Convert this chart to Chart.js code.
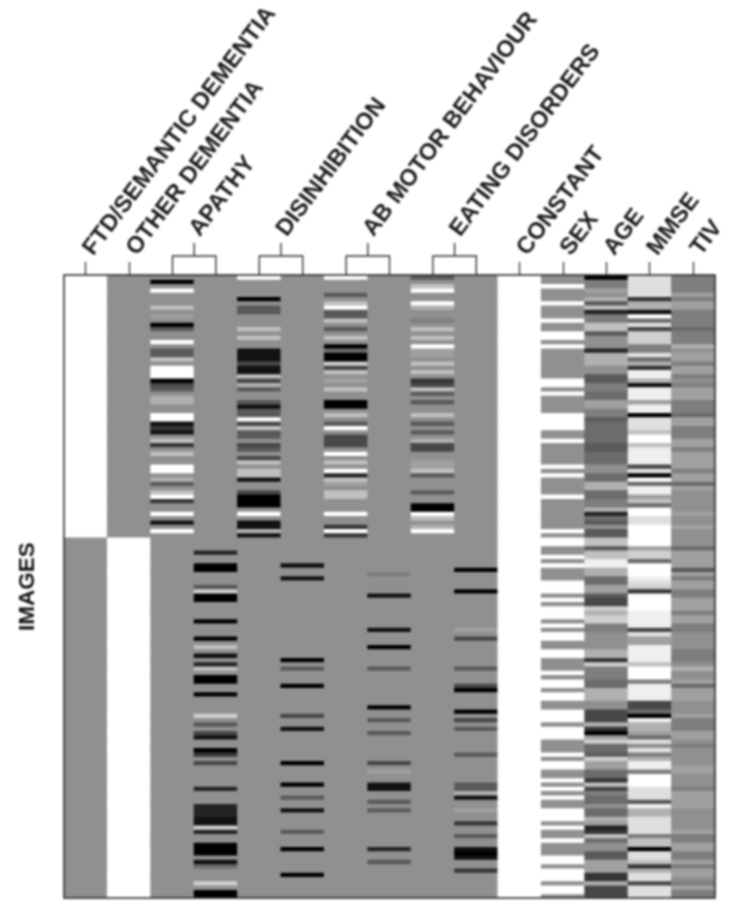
<!DOCTYPE html>
<html><head><meta charset="utf-8">
<script src="https://cdn.jsdelivr.net/npm/chart.js@4"></script>
<style>html,body{margin:0;padding:0;background:#fff}canvas{display:block;filter:blur(.9px)}</style>
</head><body><canvas id="c" width="756" height="911"></canvas>
<script>
const ROWS = 145, FTD_ROWS = 61, ZERO = 8;
const singleLabels = {0:'FTD/SEMANTIC DEMENTIA',1:'OTHER DEMENTIA',10:'CONSTANT',11:'SEX',12:'AGE',13:'MMSE',14:'TIV'};
const groupLabels = {2.5:'APATHY',4.5:'DISINHIBITION',6.5:'AB MOTOR BEHAVIOUR',8.5:'EATING DISORDERS'};
const singleTicks = [0,1,10,11,12,13,14];
const groupTicks = [2.5,4.5,6.5,8.5];
const yTitle = 'IMAGES';

// [row, level] — grey level 0 (black) .. 15 (white), 8 = mid grey
const apathyFtd = [[1,0],[3,15],[7,11],[9,9],[11,0],[12,5],[15,15],[17,5],[18,5],[19,11],[21,15],[22,15],[23,15],[24,0],[25,4],[26,5],[28,10],[29,10],[32,15],[33,15],[34,1],[35,3],[36,1],[38,11],[39,3],[41,11],[44,15],[45,15],[47,10],[48,5],[50,11],[51,15],[52,3],[55,15],[57,1],[59,15]];
const apathyOther = [[64,2],[67,0],[68,0],[72,5],[73,12],[74,0],[75,0],[80,0],[84,0],[86,11],[88,1],[90,2],[91,11],[93,0],[94,0],[97,0],[102,12],[104,5],[106,4],[107,1],[110,0],[111,3],[113,4],[119,2],[123,2],[124,2],[125,2],[126,1],[127,1],[128,12],[129,2],[132,0],[133,0],[134,0],[136,1],[137,6],[141,12],[143,0],[144,0]];
const disinhFtd = [[0,15],[5,0],[7,5],[8,5],[12,11],[14,11],[17,1],[18,1],[19,1],[20,4],[21,1],[22,1],[23,11],[24,4],[25,10],[26,5],[29,5],[30,1],[31,5],[32,5],[33,15],[34,4],[35,11],[36,5],[37,5],[39,4],[40,5],[42,4],[43,11],[45,11],[46,11],[47,1],[50,4],[51,0],[52,0],[53,0],[55,15],[57,1],[58,1],[59,10],[60,1]];
const disinhOther = [[67,1],[70,1],[89,0],[91,5],[95,0],[102,4],[105,1],[113,0],[118,0],[121,5],[124,1],[129,5],[133,0],[139,0]];
const motorFtd = [[0,15],[4,5],[6,11],[7,15],[8,5],[9,5],[10,11],[12,5],[14,11],[16,0],[17,6],[18,0],[19,0],[20,12],[21,4],[22,11],[24,9],[26,11],[29,0],[30,0],[32,11],[34,5],[35,15],[37,4],[38,4],[39,4],[41,15],[43,11],[45,15],[46,2],[47,11],[48,9],[50,11],[51,11],[55,15],[58,3],[59,15],[60,3]];
const motorOther = [[69,7],[74,1],[82,1],[86,0],[91,5],[100,0],[103,5],[106,5],[113,4],[115,9],[118,1],[119,1],[122,5],[124,5],[133,2],[136,5]];
const eatingFtd = [[0,5],[2,11],[3,15],[6,15],[7,10],[10,7],[12,11],[14,11],[16,15],[17,9],[18,9],[20,11],[22,11],[24,3],[25,4],[26,11],[27,5],[29,5],[32,11],[34,5],[36,5],[38,10],[39,4],[40,4],[43,9],[44,9],[45,11],[46,5],[50,5],[53,0],[54,0],[55,15],[56,11],[58,10],[59,15]];
const eatingOther = [[68,0],[73,0],[82,9],[84,4],[91,5],[95,4],[96,0],[101,0],[103,4],[105,5],[111,5],[118,5],[119,5],[120,10],[121,1],[124,9],[127,3],[130,5],[133,1],[134,0],[135,1],[138,3]];
// [first row, level] — the level holds until the next entry
const sexRuns = [[0,8],[2,15],[3,8],[6,15],[7,8],[10,15],[11,8],[13,15],[15,8],[16,15],[17,8],[24,15],[26,8],[27,15],[28,8],[32,15],[36,8],[38,15],[39,8],[44,15],[45,8],[46,15],[47,8],[51,15],[52,8],[59,15],[60,8],[61,15],[63,8],[65,15],[66,8],[67,15],[68,8],[71,15],[74,8],[75,15],[76,8],[77,15],[80,8],[81,15],[82,8],[83,15],[85,8],[87,15],[89,8],[92,15],[93,8],[94,15],[96,8],[97,15],[99,8],[101,15],[104,8],[105,15],[108,8],[111,15],[112,8],[113,15],[115,8],[117,15],[118,8],[119,15],[120,8],[121,15],[122,8],[124,15],[127,8],[128,15],[129,8],[131,15],[132,8],[135,15],[137,8],[138,15],[141,8],[142,15],[144,8]];
const ageRuns = [[0,0],[1,7],[3,9],[4,8],[5,10],[6,5],[7,11],[8,2],[9,7],[11,11],[13,5],[14,8],[17,2],[18,10],[21,8],[23,5],[25,7],[27,6],[29,9],[31,7],[33,5],[34,6],[39,5],[41,6],[44,8],[46,6],[48,10],[50,6],[52,7],[54,10],[55,2],[56,6],[57,5],[58,8],[59,5],[61,11],[63,5],[64,11],[66,14],[68,10],[70,6],[72,9],[74,5],[75,4],[77,12],[78,10],[79,12],[81,7],[83,8],[87,10],[89,3],[90,12],[91,7],[94,6],[96,10],[99,8],[101,4],[104,10],[105,3],[106,0],[107,9],[108,12],[109,6],[111,5],[112,12],[113,9],[115,6],[117,3],[118,11],[119,4],[120,7],[121,6],[123,8],[124,6],[126,10],[127,9],[128,2],[129,3],[130,11],[131,6],[132,8],[134,5],[136,9],[139,3],[141,10],[142,4]];
const mmseRuns = [[0,13],[5,3],[6,10],[8,1],[9,15],[10,6],[11,13],[12,4],[13,12],[16,7],[18,13],[19,6],[20,10],[21,3],[22,14],[24,10],[25,1],[26,14],[29,9],[30,14],[32,0],[33,13],[36,11],[37,15],[39,11],[40,14],[44,4],[45,13],[46,0],[47,15],[48,6],[49,14],[51,9],[52,11],[53,6],[54,15],[56,13],[58,15],[63,9],[64,12],[66,6],[67,15],[70,14],[71,13],[72,12],[73,3],[74,15],[78,14],[82,4],[83,13],[84,9],[86,14],[90,11],[91,15],[94,7],[95,14],[99,4],[101,6],[102,0],[103,14],[104,10],[106,9],[107,6],[108,13],[109,8],[110,13],[111,7],[112,10],[113,14],[115,7],[116,15],[119,13],[122,5],[123,14],[124,10],[126,13],[130,7],[131,11],[133,0],[134,13],[136,11],[137,3],[138,10],[139,13],[141,4],[142,13]];
const tivRuns = [[0,7],[4,9],[5,7],[6,9],[8,7],[12,6],[13,7],[16,10],[17,8],[18,9],[20,7],[21,9],[23,7],[24,8],[25,7],[26,9],[29,7],[32,6],[33,9],[35,7],[38,9],[40,7],[41,9],[45,7],[46,9],[48,6],[49,9],[50,8],[55,9],[56,8],[58,9],[59,8],[63,6],[64,9],[68,5],[69,9],[70,7],[71,9],[73,7],[75,9],[78,7],[79,9],[81,7],[83,8],[87,7],[90,8],[91,10],[92,8],[94,9],[95,6],[96,9],[99,8],[102,9],[103,7],[106,9],[108,8],[109,7],[110,8],[114,9],[116,8],[119,7],[120,9],[124,8],[129,9],[130,7],[132,9],[134,7],[136,9],[137,7],[138,9],[140,8],[141,7],[142,9],[143,7]];
const ftdWhiteRuns = [[0,15],[61,8]];
const otherWhiteRuns = [[0,8],[61,15]];
const constantRuns = [[0,15]];

function fromPairs(pairs){ const a = new Array(ROWS).fill(ZERO); pairs.forEach(([r,v])=>{a[r]=v}); return a; }
function fromRuns(runs){ const a = new Array(ROWS); runs.forEach(([s,v],i)=>{ const e = i+1<runs.length?runs[i+1][0]:ROWS; for(let r=s;r<e;r++)a[r]=v; }); return a; }

const columns = [
  fromRuns(ftdWhiteRuns), fromRuns(otherWhiteRuns),
  fromPairs(apathyFtd), fromPairs(apathyOther),
  fromPairs(disinhFtd), fromPairs(disinhOther),
  fromPairs(motorFtd), fromPairs(motorOther),
  fromPairs(eatingFtd), fromPairs(eatingOther),
  fromRuns(constantRuns), fromRuns(sexRuns), fromRuns(ageRuns), fromRuns(mmseRuns), fromRuns(tivRuns)
];
function grey(v){ const g = Math.round(v<=ZERO ? v*144/ZERO : 144+(v-ZERO)*111/7); return `rgb(${g},${g},${g})`; }

const datasets = [];
for(let r=0;r<ROWS;r++){
  datasets.push({label:'image '+(r+1), data:columns.map(()=>1), backgroundColor:columns.map(c=>grey(c[r])), borderWidth:0, inflateAmount:0.5, barPercentage:1, categoryPercentage:1, xAxisID:'x', yAxisID:'y'});
}
const font = {family:'"Liberation Sans",Arial,sans-serif', size:23.5, weight:'bold'};
function fixedTicks(vals){ return s=>{ s.ticks = vals.map(v=>({value:v})); }; }
function flat(s){ s.height = 0; }

const decor = {
  id:'decor',
  afterLayout(chart){ chart.scales.xSingle.top = 0; chart.scales.xGroup.top = 0; },
  afterDraw(chart){
    const {ctx, chartArea:a, scales:{x}} = chart;
    ctx.save();
    ctx.strokeStyle = '#2e2e2e'; ctx.lineWidth = 1.6;
    ctx.strokeRect(a.left, a.top, a.right-a.left, a.bottom-a.top);
    ctx.strokeStyle = '#333'; ctx.lineWidth = 1.4;
    const rise = 19, stem = 13;
    groupTicks.forEach(g=>{
      const l = x.getPixelForValue(g-0.5), r = x.getPixelForValue(g+0.5), m = (l+r)/2;
      ctx.beginPath();
      ctx.moveTo(l,a.top); ctx.lineTo(l,a.top-rise); ctx.lineTo(r,a.top-rise); ctx.lineTo(r,a.top);
      ctx.moveTo(m,a.top-rise); ctx.lineTo(m,a.top-rise-stem);
      ctx.stroke();
    });
    ctx.restore();
  }
};

new Chart(document.getElementById('c'),{
  type:'bar',
  data:{labels:columns.map((_,i)=>'C'+(i+1)), datasets},
  plugins:[decor],
  options:{
    responsive:false, animation:false,
    layout:{padding:{top:275,right:41,bottom:13,left:0}},
    plugins:{legend:{display:false},tooltip:{enabled:false}},
    scales:{
      x:{type:'category',stacked:true,display:false},
      y:{type:'linear',stacked:true,reverse:true,min:0,max:ROWS,position:'left',
         grid:{display:false},border:{display:false},ticks:{display:false},
         title:{display:true,text:yTitle,color:'#111',font:{family:font.family,size:22.5,weight:'bold'},padding:{top:14,bottom:0}},
         afterFit(s){s.width=64;}},
      xSingle:{type:'linear',position:'top',offset:false,min:-0.5,max:14.5,afterBuildTicks:fixedTicks(singleTicks),afterFit:flat,
         grid:{display:true,offset:false,drawOnChartArea:false,drawTicks:true,tickLength:13,tickColor:'#333',tickWidth:1.3},border:{display:false},
         ticks:{display:true,autoSkip:false,minRotation:53,maxRotation:53,padding:1,labelOffset:25,color:'#1a1a1a',font,callback:v=>singleLabels[v]}},
      xGroup:{type:'linear',position:'top',offset:false,min:-0.5,max:14.5,afterBuildTicks:fixedTicks(groupTicks),afterFit:flat,
         grid:{display:false,offset:false,drawTicks:false},border:{display:false},
         ticks:{display:true,autoSkip:false,minRotation:53,maxRotation:53,padding:33,labelOffset:23,color:'#1a1a1a',font,callback:v=>groupLabels[v]}}
    }
  }
});
</script></body></html>
